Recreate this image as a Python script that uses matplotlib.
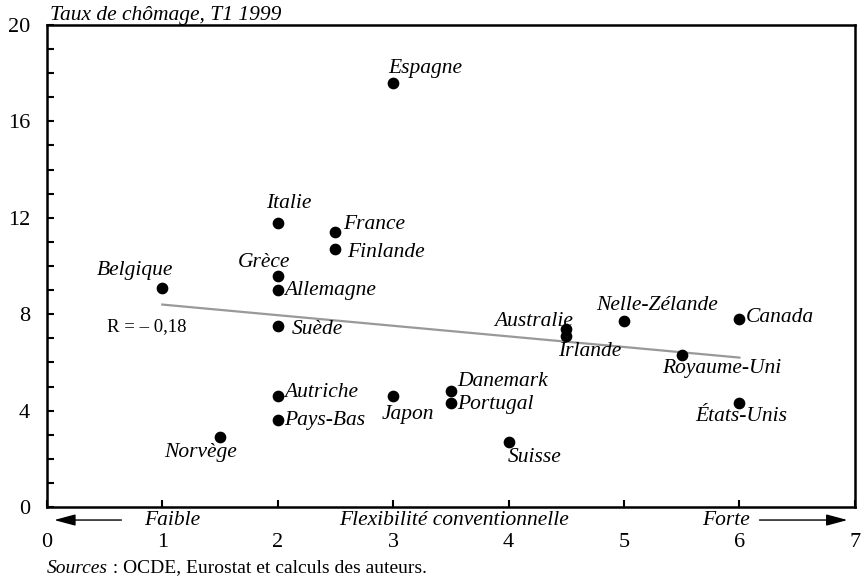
import matplotlib.pyplot as plt
from matplotlib.ticker import MultipleLocator

plt.rcParams['font.family'] = ['Liberation Serif', 'DejaVu Serif']

# data
countries = ['Espagne', 'Italie', 'France', 'Finlande', 'Grèce', 'Allemagne',
             'Belgique', 'Suède', 'Autriche', 'Pays-Bas', 'Norvège', 'Japon',
             'Danemark', 'Portugal', 'Suisse', 'Australie', 'Irlande',
             'Nelle-Zélande', 'Canada', 'Royaume-Uni', 'États-Unis']
flexibility = [3.0, 2.0, 2.5, 2.5, 2.0, 2.0, 1.0, 2.0, 2.0, 2.0, 1.5, 3.0,
               3.5, 3.5, 4.0, 4.5, 4.5, 5.0, 6.0, 5.5, 6.0]
unemployment = [17.6, 11.8, 11.4, 10.7, 9.6, 9.0, 9.1, 7.5, 4.6, 3.6, 2.9, 4.6,
                4.8, 4.3, 2.7, 7.4, 7.1, 7.7, 7.8, 6.3, 4.3]
trend_x = [1.0, 6.0]
trend_y = [8.4, 6.2]
x_ticks = [0, 1, 2, 3, 4, 5, 6, 7]
y_ticks = [0, 4, 8, 12, 16, 20]

# label placement: offset in pixels (dx, dy up), horizontal alignment
label_pos = {
    'Espagne': (-5, 14, 'left'),
    'Italie': (11, 19, 'center'),
    'France': (8, 8, 'left'),
    'Finlande': (12, -3, 'left'),
    'Grèce': (-14, 13, 'center'),
    'Allemagne': (6, 0, 'left'),
    'Belgique': (-27, 17, 'center'),
    'Suède': (14, -3, 'left'),
    'Autriche': (6, 4, 'left'),
    'Pays-Bas': (6, 0, 'left'),
    'Norvège': (-19, -15, 'center'),
    'Japon': (15, -18, 'center'),
    'Danemark': (6, 10, 'left'),
    'Portugal': (6, -1, 'left'),
    'Suisse': (26, -16, 'center'),
    'Australie': (7, 7, 'right'),
    'Irlande': (-8, -16, 'left'),
    'Nelle-Zélande': (33, 16, 'center'),
    'Canada': (6, 2, 'left'),
    'Royaume-Uni': (40, -13, 'center'),
    'États-Unis': (2, -13, 'center'),
}

fs = 15.5
fig = plt.figure(figsize=(8.67, 5.85), dpi=100)
ax = fig.add_axes([0.054, 0.1333, 0.932, 0.824])

ax.plot(trend_x, trend_y, color='#999999', lw=1.6, zorder=1)
ax.scatter(flexibility, unemployment, s=55, color='black', zorder=2)

for name, x, y in zip(countries, flexibility, unemployment):
    dx, dy, ha = label_pos[name]
    ax.annotate(name, (x, y), xytext=(dx * 0.72, dy * 0.72),
                textcoords='offset points', ha=ha, va='center',
                fontsize=fs, style='italic')

ax.text(0.52, 7.5, 'R = – 0,18', fontsize=13.5, ha='left', va='center')

ax.set_xlim(0, 7)
ax.set_ylim(0, 20)
ax.set_xticks(x_ticks)
ax.set_yticks(y_ticks)
ax.yaxis.set_minor_locator(MultipleLocator(1))
ax.tick_params(axis='both', which='both', direction='in', length=5, width=1.5,
               labelsize=16)
ax.tick_params(axis='x', pad=19)
ax.tick_params(axis='y', pad=12)
for s in ax.spines.values():
    s.set_linewidth(1.8)

# title above the frame
ax.text(0.004, 1.0, 'Taux de chômage, T1 1999', transform=ax.transAxes,
        ha='left', va='bottom', fontsize=fs, style='italic')

# axis caption row with arrows
tr = ax.get_xaxis_transform()
row_y = -0.027
arrow = dict(arrowstyle='-|>,head_length=1.3,head_width=0.35',
             color='black', lw=1.0)
ax.annotate('', xy=(0.04, row_y), xytext=(0.67, row_y), xycoords=tr,
            textcoords=tr, annotation_clip=False, arrowprops=arrow)
ax.annotate('', xy=(6.96, row_y), xytext=(6.15, row_y), xycoords=tr,
            textcoords=tr, annotation_clip=False, arrowprops=arrow)
ax.text(0.84, row_y, 'Faible', transform=tr, ha='left', va='center',
        fontsize=fs, style='italic')
ax.text(3.53, row_y, 'Flexibilité conventionnelle', transform=tr,
        ha='center', va='center', fontsize=fs, style='italic')
ax.text(6.09, row_y, 'Forte', transform=tr, ha='right', va='center',
        fontsize=fs, style='italic')

# source line
src = fig.text(0.054, 0.029, 'Sources', fontsize=14, style='italic',
               ha='left', va='center')
ax.annotate(' : OCDE, Eurostat et calculs des auteurs.', xy=(1, 0),
            xycoords=src, ha='left', va='bottom', fontsize=14,
            annotation_clip=False)

fig.savefig('out.png', dpi=100)
